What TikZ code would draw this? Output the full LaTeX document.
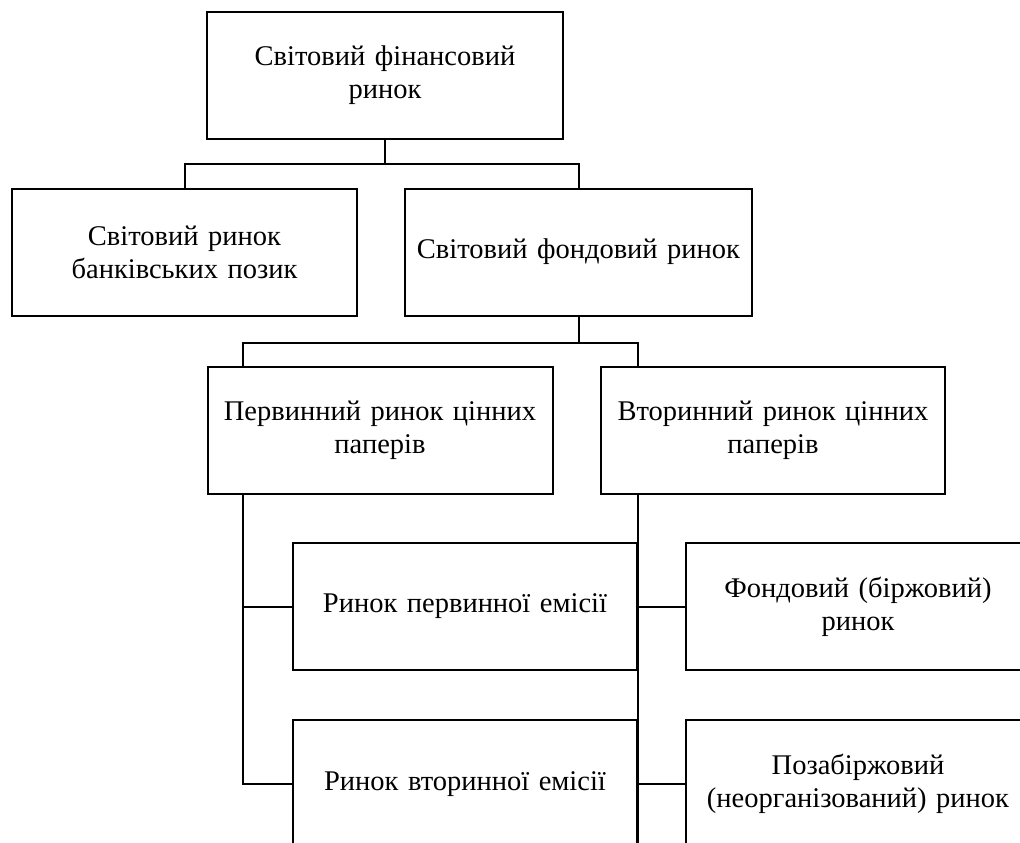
\documentclass[tikz,border=0pt]{standalone}
\usepackage{fontspec}
\setmainfont{Liberation Serif}
\usetikzlibrary{positioning, calc}

\begin{document}
\begin{tikzpicture}[
    x=1pt, y=-1pt,
    line width=2pt,
    % Styles
    market/.style={
        draw, rectangle, line width=2pt,
        minimum width=345pt, minimum height=127pt,
        text width=335pt, align=center, inner sep=0pt,
        font=\fontsize{28.5}{33}\selectfont
    },
    link/.style={line width=2pt}
  ]

    \clip (0,0) rectangle (1020,843);

    % --- Top levels ---
    \node (fin)   [market, minimum width=356pt] at (385,75.5) {Світовий фінансовий\\ринок};
    \node (bank)  [market] at (184.5,252) {Світовий ринок\\банківських позик};
    \node (fond)  [market, minimum width=347pt] at (578.5,252) {Світовий фондовий ринок};

    % --- Securities markets ---
    \node (perv)  [market] at (380,430) {Первинний ринок цінних\\паперів};
    \node (vtor)  [market, minimum width=344pt] at (773,430) {Вторинний ринок цінних\\паперів};

    % --- Emission and exchange markets ---
    \node (pem)   [market, minimum width=344pt] at (465,606.5) {Ринок первинної емісії};
    \node (vem)   [market, minimum width=344pt, minimum height=128pt] at (465,784) {Ринок вторинної емісії};
    \node (birzh) [market, minimum width=344pt] at (858,606.5) {Фондовий (біржовий)\\ринок};
    \node (pozab) [market, minimum width=344pt, minimum height=128pt] at (858,784) {Позабіржовий\\(неорганізований) ринок};

    % --- Spines ---
    \coordinate (ls) at (243,0);
    \coordinate (rs) at (pem.east);

    % --- Connectors ---
    \draw[link] (fin.south) -- ++(0,24) coordinate (j1);
    \draw[link] (bank.north) |- (j1) -| (fond.north);
    \draw[link] (fond.south) -- ++(0,26) coordinate (j2);
    \draw[link] (ls |- perv.north) |- (j2) -| (rs |- vtor.north);

    \draw[link] (ls |- perv.south) |- (vem.west);
    \draw[link] (ls |- pem.west) -- (pem.west);

    \draw[link] (rs |- vtor.south) -- (rs |- 0,860);
    \draw[link] (pem.east) -- (birzh.west);
    \draw[link] (vem.east) -- (pozab.west);

\end{tikzpicture}
\end{document}
